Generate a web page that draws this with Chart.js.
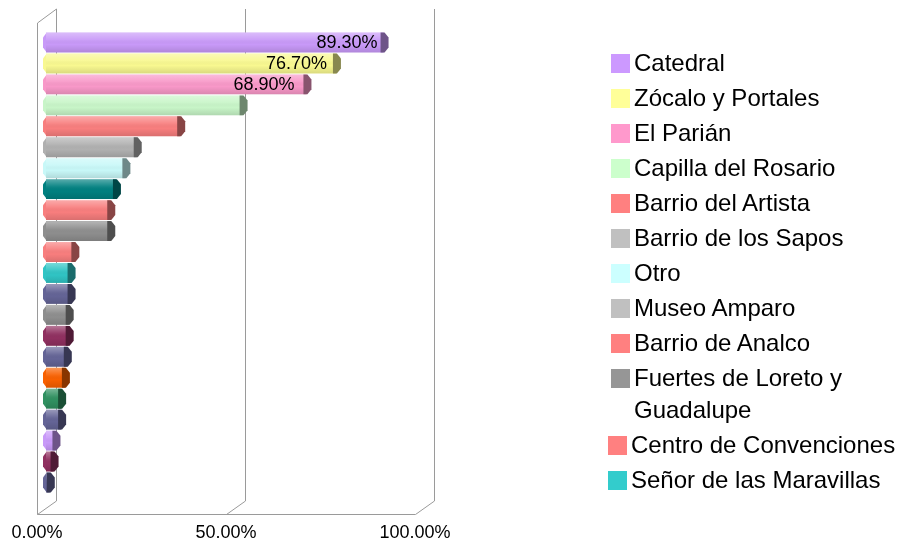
<!DOCTYPE html>
<html>
<head>
<meta charset="utf-8">
<script src="https://cdn.jsdelivr.net/npm/chart.js@4/dist/chart.umd.min.js"></script>
<style>
    html, body { margin: 0; padding: 0; background: #fff; overflow: hidden; }
    #wrap { position: relative; width: 902px; height: 544px; }
    #grafico { position: absolute; left: 0; top: 0; }
    #leyenda { position: absolute; left: 611px; top: 47px; font-family: "Liberation Sans", Arial, sans-serif; font-size: 24px; color: #000; }
    .item { display: flex; align-items: flex-start; margin-bottom: 3px; line-height: 32px; }
    .caja { width: 19px; height: 19px; margin: 7px 4px 0 0; flex: none; }
    .texto { width: 272px; }
</style>
</head>
<body>
<div id="wrap">
    <canvas id="grafico" width="902" height="544"></canvas>
    <div id="leyenda"></div>
</div>
<script>
// lugares visibles en la leyenda (el resto queda recortado en el original)
const lugares = ['Catedral', 'Zócalo y Portales', 'El Parián', 'Capilla del Rosario', 'Barrio del Artista',
    'Barrio de los Sapos', 'Otro', 'Museo Amparo', 'Barrio de Analco', 'Fuertes de Loreto y Guadalupe',
    'Centro de Convenciones', 'Señor de las Maravillas'];
const coloresLeyenda = ['#CC99FF', '#FFFF99', '#FF99CC', '#CCFFCC', '#FF8080', '#C0C0C0', '#CCFFFF',
    '#C0C0C0', '#FF8080', '#969696', '#FF8080', '#33CCCC'];

// porcentajes de cada barra (de arriba hacia abajo)
const porcentajes = [89.3, 76.7, 68.9, 52.0, 35.5, 24.0, 21.0, 18.5, 17.0, 17.0, 7.5,
    6.5, 6.5, 6.0, 6.0, 5.5, 5.0, 4.0, 4.0, 2.5, 2.0, 1.0];
const coloresBarras = ['#C899F8', '#F8F890', '#F898C8', '#C8F5C8', '#F87E7E', '#B0B0B0', '#C8F8F8',
    '#008080', '#F87E7E', '#8E8E8E', '#F87E7E', '#30C4C4', '#646496', '#8E8E8E', '#903060',
    '#646496', '#F86000', '#309060', '#646496', '#C899F8', '#903060', '#646496'];
// solo las tres primeras llevan etiqueta
const etiquetas = ['89.30%', '76.70%', '68.90%'];
const ticksEje = [0, 50, 100];

const oscurecer = (hex, f) => {
    const n = parseInt(hex.slice(1), 16);
    const r = Math.round(((n >> 16) & 255) * f);
    const g = Math.round(((n >> 8) & 255) * f);
    const b = Math.round((n & 255) * f);
    return `rgb(${r},${g},${b})`;
};

// marco en perspectiva (pared del fondo y borde frontal)
const marco3D = {
    id: 'marco3D',
    beforeDatasetsDraw(chart) {
        const { ctx, chartArea: { top, bottom } } = chart;
        const xs = chart.scales.x;
        const fx = -9, bx = 10;
        ctx.save();
        ctx.strokeStyle = '#9a9a9a';
        ctx.lineWidth = 1;
        ctx.beginPath();
        const x0 = Math.round(xs.getPixelForValue(0)) + 0.5;
        const x100 = Math.round(xs.getPixelForValue(100)) + 0.5;
        ctx.moveTo(x0 + fx, top - 9);
        ctx.lineTo(x0 + fx, bottom + 21.5);
        ctx.lineTo(x100 + fx, bottom + 21.5);
        ctx.moveTo(x0 + fx, top - 9);
        ctx.lineTo(x0 + bx, top - 23);
        ticksEje.forEach(v => {
            const xv = Math.round(xs.getPixelForValue(v)) + 0.5;
            ctx.moveTo(xv + bx, top - 23);
            ctx.lineTo(xv + bx, bottom + 8);
            ctx.lineTo(xv + fx, bottom + 21.5);
        });
        ctx.stroke();
        ctx.restore();
    },
    afterDatasetsDraw(chart) {
        const { ctx } = chart;
        const meta = chart.getDatasetMeta(0);
        ctx.save();
        meta.data.forEach((bar, i) => {
            const { x, y, base, height } = bar.getProps(['x', 'y', 'base', 'height'], true);
            const t = y - height / 2, b = y + height / 2;
            // brillo cilíndrico
            const g = ctx.createLinearGradient(0, t, 0, b);
            g.addColorStop(0, 'rgba(255,255,255,0.35)');
            g.addColorStop(0.35, 'rgba(255,255,255,0.08)');
            g.addColorStop(0.6, 'rgba(0,0,0,0)');
            g.addColorStop(1, 'rgba(0,0,0,0.12)');
            ctx.fillStyle = g;
            ctx.fillRect(base, t, x - base, height);
            // extremo izquierdo redondeado
            ctx.fillStyle = coloresBarras[i];
            ctx.beginPath();
            ctx.moveTo(base, t + 1);
            ctx.lineTo(base - 3, t + 5);
            ctx.lineTo(base - 3, b - 5);
            ctx.lineTo(base, b - 1);
            ctx.closePath();
            ctx.fill();
            // tapa del extremo
            ctx.fillStyle = oscurecer(coloresBarras[i], 0.55);
            ctx.beginPath();
            ctx.moveTo(x - 3, t);
            ctx.lineTo(x + 1, t);
            ctx.lineTo(x + 5, t + 5);
            ctx.lineTo(x + 5, b - 5);
            ctx.lineTo(x + 1, b);
            ctx.lineTo(x - 3, b);
            ctx.closePath();
            ctx.fill();
            if (etiquetas[i]) {
                ctx.fillStyle = '#000';
                ctx.font = '18px "Liberation Sans", Arial, sans-serif';
                ctx.textAlign = 'right';
                ctx.textBaseline = 'middle';
                ctx.fillText(etiquetas[i], x - 6 - i * 3, y + 1);
            }
        });
        ctx.restore();
    }
};

const ctx = document.getElementById('grafico').getContext('2d');
new Chart(ctx, {
    type: 'bar',
    data: {
        labels: porcentajes.map((v, i) => lugares[i] || ''),
        datasets: [{
            data: porcentajes,
            backgroundColor: coloresBarras,
            borderWidth: 0,
            barPercentage: 0.95,
            categoryPercentage: 1
        }]
    },
    options: {
        indexAxis: 'y',
        responsive: false,
        animation: false,
        layout: { padding: { left: 46, right: 478, top: 32, bottom: 0 } },
        plugins: { legend: { display: false }, tooltip: { enabled: false } },
        scales: {
            x: {
                min: 0, max: 100,
                afterBuildTicks: axis => { axis.ticks = ticksEje.map(v => ({ value: v })); },
                afterFit: axis => {
                    axis.height = 51;
                    axis.paddingLeft = 0;
                    axis.paddingRight = 0;
                },
                grid: { display: false, drawTicks: false },
                border: { display: false },
                ticks: {
                    padding: 29,
                    maxRotation: 0,
                    labelOffset: -9,
                    color: '#000',
                    font: { family: '"Liberation Sans", Arial, sans-serif', size: 18 },
                    callback: v => v.toFixed(2) + '%'
                }
            },
            y: { display: false }
        }
    },
    plugins: [marco3D]
});

// leyenda en HTML
const leyenda = document.getElementById('leyenda');
lugares.forEach((nombre, i) => {
    const item = document.createElement('div');
    item.className = 'item';
    if (i >= 10) item.style.marginLeft = '-3px';
    item.innerHTML = `<span class="caja" style="background:${coloresLeyenda[i]}"></span><span class="texto">${nombre}</span>`;
    leyenda.appendChild(item);
});
</script>
</body>
</html>
